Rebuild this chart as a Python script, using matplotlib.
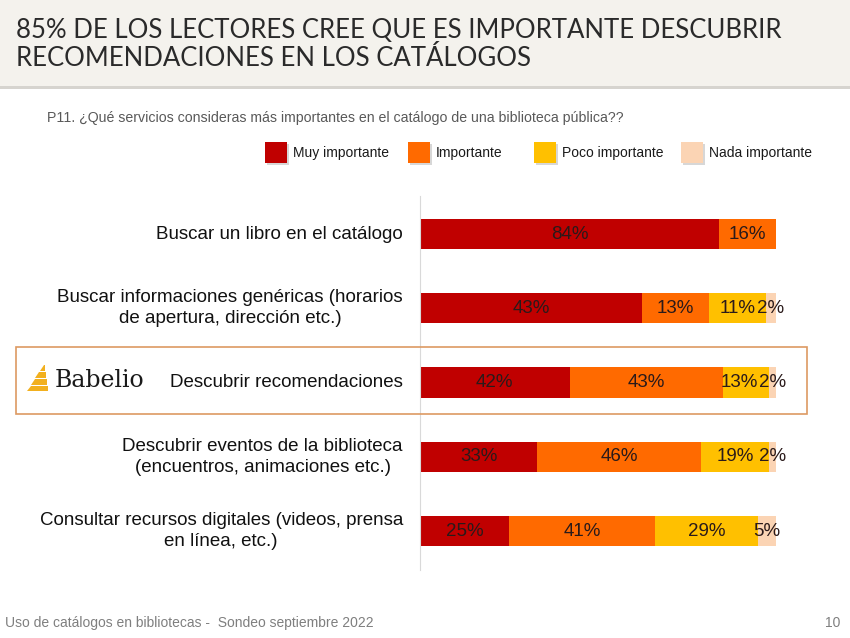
"""Stacked bar chart: importance of library catalogue services (Babelio survey)."""

import matplotlib
matplotlib.use("Agg")
import matplotlib.pyplot as plt
from matplotlib.patches import Rectangle, Polygon

categories = [
    "Buscar un libro en el catálogo",
    "Buscar informaciones genéricas (horarios\nde apertura, dirección etc.)",
    "Descubrir recomendaciones",
    "Descubrir eventos de la biblioteca\n(encuentros, animaciones etc.)",
    "Consultar recursos digitales (videos, prensa\nen línea, etc.)",
]
series_names = ["Muy importante", "Importante", "Poco importante", "Nada importante"]
muy = [84, 43, 42, 33, 25]
importante = [16, 13, 43, 46, 41]
poco = [0, 11, 13, 19, 29]
nada = [0, 2, 2, 2, 5]
colors = ["#c00000", "#ff6a00", "#ffc000", "#fbd4b4"]

W, H = 850, 638
fig = plt.figure(figsize=(W / 100, H / 100), dpi=100)
fig.patch.set_facecolor("white")


def fx(px):
    return px / W


def fy(py):
    return 1 - py / H


# title band
fig.patches.append(Rectangle((0, fy(86)), 1, 86 / H, transform=fig.transFigure,
                             facecolor="#f4f2ed", edgecolor="none", zorder=0))
fig.patches.append(Rectangle((0, fy(89)), 1, 3 / H, transform=fig.transFigure,
                             facecolor="#d6d4cf", edgecolor="none", zorder=0))
for py, line in [(31, "85% DE LOS LECTORES CREE QUE ES IMPORTANTE DESCUBRIR"),
                 (58, "RECOMENDACIONES EN LOS CATÁLOGOS")]:
    fig.text(fx(16), fy(py), line, fontsize=18.5, family="Lato", weight="normal",
             color="#2a2a2a", va="center")

fig.text(fx(47), fy(118), "P11. ¿Qué servicios consideras más importantes en el catálogo de una biblioteca pública??",
         fontsize=10.2, family="Liberation Sans", color="#595959", va="center")

# legend
legend_x = [265, 408, 534, 681]
for x0, name, c in zip(legend_x, series_names, colors):
    fig.patches.append(Rectangle((fx(x0 + 2), fy(165)), 22 / W, 21 / H,
                                 transform=fig.transFigure, facecolor="#b0b0b0",
                                 edgecolor="none", alpha=0.5))
    fig.patches.append(Rectangle((fx(x0), fy(163)), 22 / W, 21 / H,
                                 transform=fig.transFigure, facecolor=c, edgecolor="none"))
    fig.text(fx(x0 + 28), fy(153), name, fontsize=10, family="Liberation Sans",
             color="#1a1a1a", va="center")

# bars
ax = fig.add_axes([fx(420), fy(570), fx(356), (570 - 196) / H])
ax.set_xlim(0, 1)
ax.set_ylim(4 + (570 - 531) / 74.25, -(234 - 196) / 74.25)
ypos = list(range(len(categories)))
totals = [a + b + d + e for a, b, d, e in zip(muy, importante, poco, nada)]
left = [0.0] * len(categories)
row_labels = {y: [] for y in ypos}
for vals, c in zip([muy, importante, poco, nada], colors):
    widths = [v / t for v, t in zip(vals, totals)]
    ax.barh(ypos, widths, left=left, height=0.41, color=c, edgecolor="none", zorder=2)
    for y, v, l, w in zip(ypos, vals, left, widths):
        if v > 0:
            t = ax.text(l + w / 2, y, f"{v}%", ha="center", va="center", fontsize=13.5,
                        family="Liberation Sans", color="#2a1a1a", clip_on=False, zorder=3)
            row_labels[y].append(t)
    left = [l + w for l, w in zip(left, widths)]

# nudge labels left where a narrow segment's label would collide with its neighbour
renderer = fig.canvas.get_renderer()
inv = ax.transData.inverted()
for y, texts in row_labels.items():
    for a, b in reversed(list(zip(texts[:-1], texts[1:]))):
        ea = a.get_window_extent(renderer)
        eb = b.get_window_extent(renderer)
        overlap = ea.x1 - eb.x0 + 1
        if overlap > 0:
            x, yy = a.get_position()
            dx = inv.transform((overlap, 0))[0] - inv.transform((0, 0))[0]
            a.set_position((x - dx, yy))

for s in ["top", "right", "bottom"]:
    ax.spines[s].set_visible(False)
ax.spines["left"].set_color("#d9d9d9")
ax.set_xticks([])
ax.set_yticks([])
ax.patch.set_alpha(0)

for y, label in zip(ypos, categories):
    ax.text(-0.048, y, label, ha="right", va="center", multialignment="center",
            linespacing=1.3, fontsize=13.5, family="Liberation Sans", color="#111111")

# highlight box around the Babelio row
fig.patches.append(Rectangle((fx(16), fy(414)), fx(791), 67 / H, transform=fig.transFigure,
                             facecolor="none", edgecolor="#dd9a62", linewidth=1.2))

# Babelio logo: stacked slanted layers
gold = "#f2b01e"
layers = [(365, 371, 40, 45), (372, 378, 35, 46), (379, 385, 31, 47), (386, 391, 27, 48)]
for top, bot, xl, xr in layers:
    fig.patches.append(Polygon([(fx(xl), fy(bot)), (fx(xr), fy(bot)),
                                (fx(xr), fy(top)), (fx(xl + 4), fy(top))],
                               closed=True, transform=fig.transFigure,
                               facecolor=gold, edgecolor="none"))
fig.text(fx(55), fy(381), "Babelio", fontsize=17, family="DejaVu Serif",
         color="#1a1a1a", va="center")

# footer
fig.text(fx(5), fy(623), "Uso de catálogos en bibliotecas -  Sondeo septiembre 2022",
         fontsize=10, family="Liberation Sans", color="#7f7f7f", va="center")
fig.text(fx(840), fy(623), "10", fontsize=10, family="Liberation Sans",
         color="#7f7f7f", va="center", ha="right")

fig.savefig("out.png", dpi=100)
